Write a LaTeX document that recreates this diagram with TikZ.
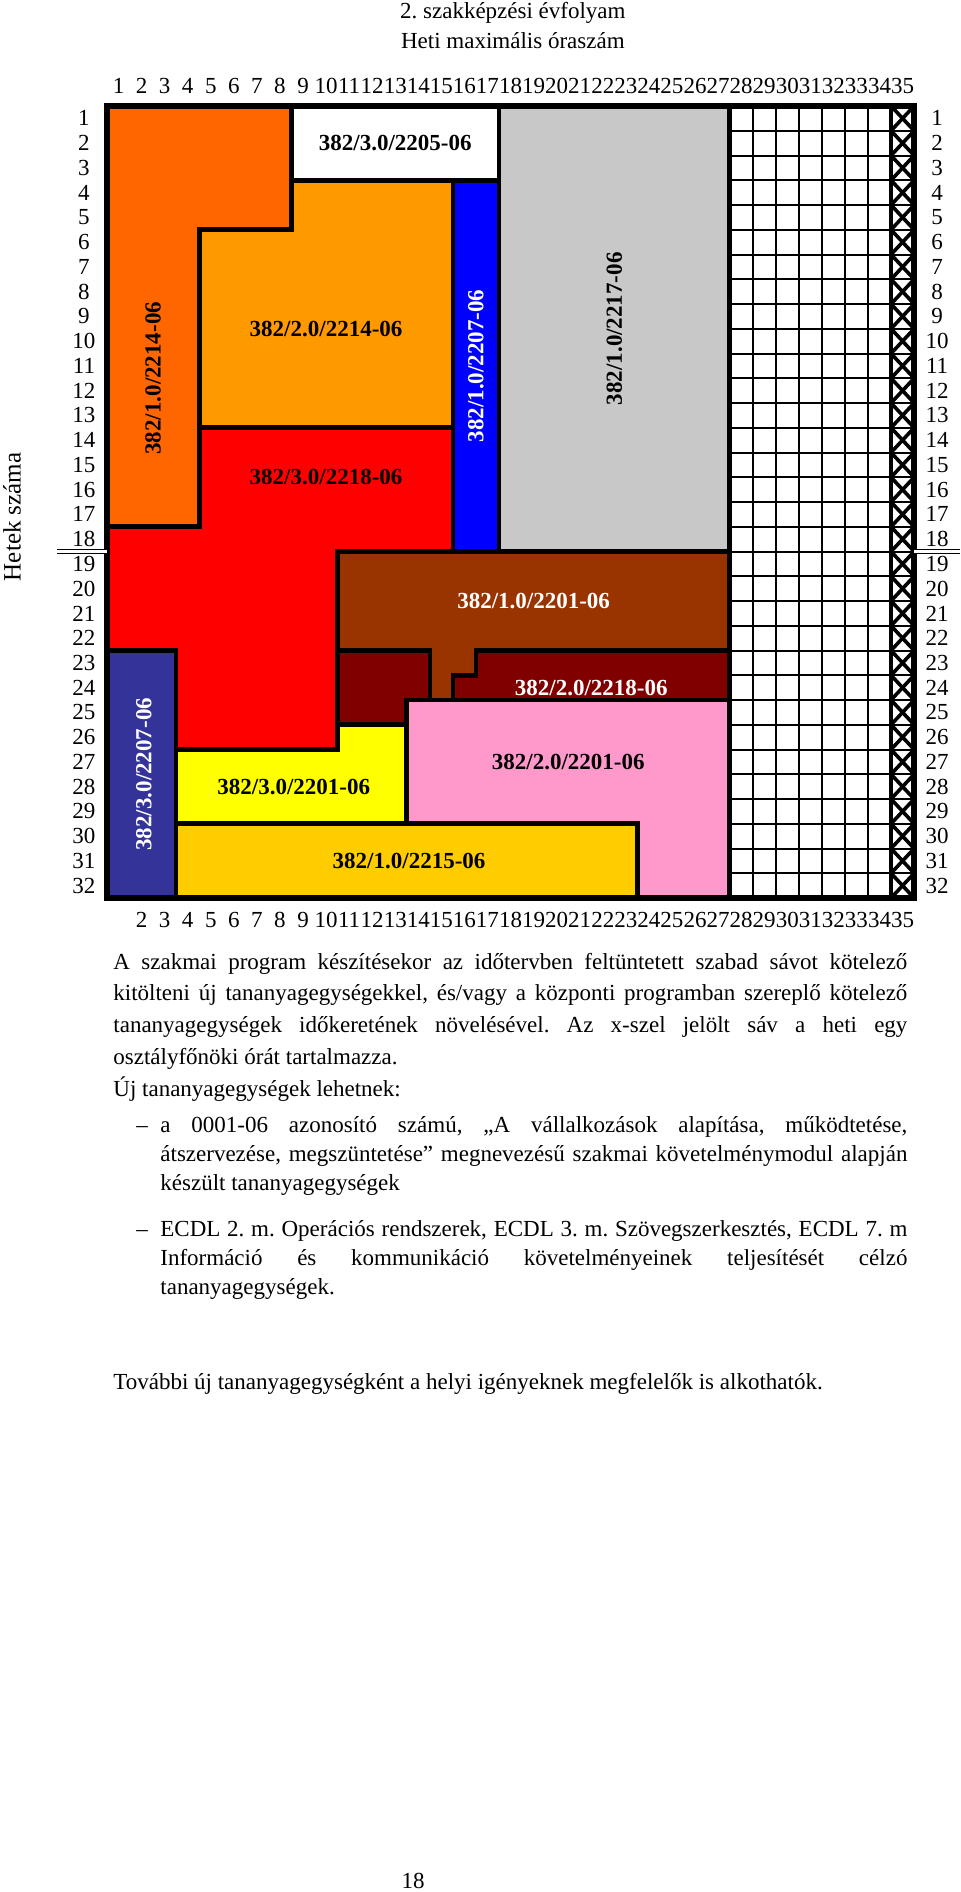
\documentclass[tikz,border=0pt]{standalone}
\usepackage{fontspec}
\setmainfont{Liberation Serif}
\usepackage{xcolor}
\usepackage{tikz}
\usetikzlibrary{positioning}
\frenchspacing
\definecolor{narancs}{HTML}{FF6600}
\definecolor{vnarancs}{HTML}{FF9900}
\definecolor{piros}{HTML}{FF0000}
\definecolor{kek}{HTML}{0000FF}
\definecolor{szurke}{HTML}{C8C8C8}
\definecolor{barna}{HTML}{993300}
\definecolor{bordo}{HTML}{800000}
\definecolor{rozsa}{HTML}{FF99CC}
\definecolor{sarga}{HTML}{FFFF00}
\definecolor{arany}{HTML}{FFCC00}
\definecolor{sotetkek}{HTML}{333399}
\tikzset{
  blokk/.style={draw=black, line width=2.3pt, line join=miter},
  keret/.style={draw=black, line width=2.8pt, line join=miter},
  racs/.style={draw=black, line width=1pt},
  kereszt/.style={draw=black, line width=1.8pt},
  ketvonal/.style={double, double distance=1.1pt, line width=0.5pt},
  felirat/.style={font=\fontsize{11.5}{13}\selectfont\bfseries, inner sep=0pt},
  szam/.style={font=\fontsize{11.5}{13}\selectfont, inner sep=0pt},
  szoveg/.style={font=\fontsize{11.5}{15.9}\selectfont, text width=397pt, align=justify, inner sep=0pt, anchor=base west},
  lista/.style={font=\fontsize{11.5}{14.5}\selectfont, text width=373.5pt, align=justify, inner sep=0pt, anchor=base west},
}

\begin{document}
\begin{tikzpicture}[x=11.53pt, y=-12.375pt]
  \useasboundingbox (-53.5pt,53pt) rectangle (426.5pt,-893pt);
  \draw[blokk, fill=narancs] (0,0) -- (8,0) -- (8,5) -- (4,5) -- (4,17) -- (0,17) -- cycle;
  \draw[blokk, fill=white] (8,0) rectangle (17,3);
  \draw[blokk, fill=vnarancs] (8,3) -- (15,3) -- (15,13) -- (4,13) -- (4,5) -- (8,5) -- cycle;
  \draw[blokk, fill=kek] (15,3) rectangle (17,18);
  \draw[blokk, fill=szurke] (17,0) rectangle (27,18);
  \draw[blokk, fill=piros] (4,13) -- (15,13) -- (15,18) -- (10,18) -- (10,26) -- (3,26) -- (3,22) -- (0,22) -- (0,17) -- (4,17) -- cycle;
  \draw[blokk, fill=sotetkek] (0,22) rectangle (3,32);
  \draw[blokk, fill=barna] (10,18) -- (27,18) -- (27,22) -- (16,22) -- (16,23) -- (15,23) -- (15,24) -- (14,24) -- (14,22) -- (10,22) -- cycle;
  \draw[blokk, fill=bordo] (10,22) -- (14,22) -- (14,24) -- (13,24) -- (13,25) -- (10,25) -- cycle;
  \draw[blokk, fill=bordo] (16,22) -- (27,22) -- (27,24) -- (15,24) -- (15,23) -- (16,23) -- cycle;
  \draw[blokk, fill=rozsa] (13,24) -- (27,24) -- (27,32) -- (23,32) -- (23,29) -- (13,29) -- cycle;
  \draw[blokk, fill=sarga] (3,26) -- (10,26) -- (10,25) -- (13,25) -- (13,29) -- (3,29) -- cycle;
  \draw[blokk, fill=arany] (3,29) rectangle (23,32);
  % szabad sav
  \foreach \c in {28,...,33} \draw[racs] (\c,0) -- (\c,32);
  \foreach \r in {1,...,31} \draw[racs] (27,\r) -- (35,\r);
  \foreach \r in {0,...,31} \draw[kereszt] (34,\r) -- (35,\r+1) (34,\r+1) -- (35,\r);
  \draw[kereszt] (34,0) -- (34,32);
  \draw[blokk] (27,0) -- (27,32);
  \draw[keret] (0,0) rectangle (35,32);
  \draw[ketvonal] (-2.17,18) -- (0,18);
  \draw[ketvonal] (35,18) -- (36.99,18);

  \node[felirat] (m2205) at (12.5,1.5) {382/3.0/2205-06};
  \node[felirat, rotate=90] (m2214a) at (2,11) {382/1.0/2214-06};
  \node[felirat] (m2214b) at (9.5,9) {382/2.0/2214-06};
  \node[felirat] (m2218a) at (9.5,15) {382/3.0/2218-06};
  \node[felirat, rotate=90, text=white] (m2207a) at (16,10.5) {382/1.0/2207-06};
  \node[felirat, rotate=90] (m2217) at (22,9) {382/1.0/2217-06};
  \node[felirat, text=white] (m2201a) at (18.5,20) {382/1.0/2201-06};
  \node[felirat, text=white] (m2218b) at (21,23.5) {382/2.0/2218-06};
  \node[felirat] (m2201b) at (20,26.5) {382/2.0/2201-06};
  \node[felirat] (m2201c) at (8.1,27.5) {382/3.0/2201-06};
  \node[felirat] (m2215) at (13.1,30.5) {382/1.0/2215-06};
  \node[felirat, rotate=90, text=white] (m2207b) at (1.6,27) {382/3.0/2207-06};

  \foreach \i in {1,...,35} \node[szam] (ft\i) at (\i-0.5,-0.81) {\i};
  \foreach \i in {2,...,35} \node[szam] (fb\i) at (\i-0.5,32.9) {\i};
  \foreach \i in {1,...,32} {
    \node[szam] (bal\i) at (-1,\i-0.5) {\i};
    \node[szam] (jobb\i) at (36,\i-0.5) {\i};
  }
  \node[szam, rotate=90, font=\fontsize{12.5}{14}\selectfont] (hetek) at (-4.12,16.6) {Hetek száma};
  \node[szam, anchor=base] (evf) at (17.6,-3.52) {2. szakképzési évfolyam};
  \node[szam, anchor=base] (oraszam) at (17.6,-2.34) {Heti maximális óraszám};

  \node[szoveg] (bekezdes) at (3pt,-431.5pt) {A szakmai program készítésekor az időtervben feltüntetett szabad sávot kötelező\linebreak kitölteni új tananyagegységekkel, és/vagy a központi programban szereplő kötelező\linebreak tananyagegységek időkeretének növelésével. Az x-szel jelölt sáv a heti egy\linebreak osztályfőnöki órát tartalmazza.\\Új tananyagegységek lehetnek:};
  \node[szam, anchor=base] (jel1) at (17.5pt,-513pt) {–};
  \node[lista] (lista1) at (26.5pt,-513pt) {a 0001-06 azonosító számú, „A vállalkozások alapítása, működtetése,\linebreak átszervezése, megszüntetése” megnevezésű szakmai követelménymodul alapján\linebreak készült tananyagegységek};
  \node[szam, anchor=base] (jel2) at (17.5pt,-565.3pt) {–};
  \node[lista] (lista2) at (26.5pt,-565.3pt) {ECDL 2. m. Operációs rendszerek, ECDL 3. m. Szövegszerkesztés, ECDL 7. m\linebreak Információ és kommunikáció követelményeinek teljesítését célzó\linebreak tananyagegységek.};
  \node[szoveg] (zaro) at (3pt,-641.8pt) {További új tananyagegységként a helyi igényeknek megfelelők is alkothatók.};
  \node[szam, anchor=base] (oldalszam) at (153pt,-891pt) {18};
\end{tikzpicture}
\end{document}
